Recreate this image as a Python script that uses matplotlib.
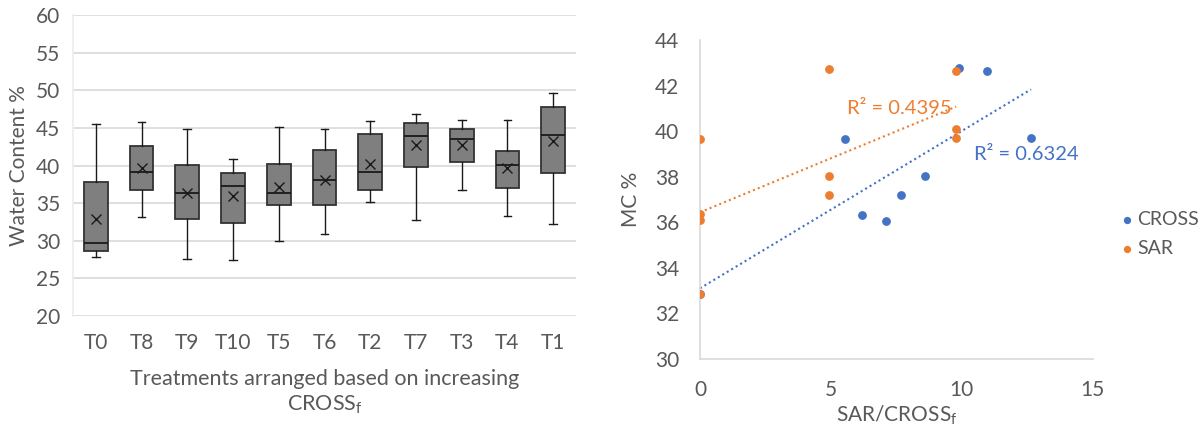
import numpy as np
import matplotlib
matplotlib.use("Agg")
import matplotlib.pyplot as plt

plt.rcParams['font.family'] = ['Lato', 'DejaVu Sans']
plt.rcParams['mathtext.fontset'] = 'custom'
plt.rcParams['mathtext.rm'] = 'Lato'
plt.rcParams['mathtext.it'] = 'Lato'

TEXT = "#595959"
GRID = "#d9d9d9"
BLUE = "#4472C4"
ORANGE = "#ED7D31"
FS = 15

# box plot data (treatments ordered by increasing CROSS_f)
treatments = ["T0", "T8", "T9", "T10", "T5", "T6", "T2", "T7", "T3", "T4", "T1"]
whislo = [27.8, 33.1, 27.6, 27.4, 30.0, 30.9, 35.1, 32.8, 36.8, 33.3, 32.2]
q1 = [28.6, 36.8, 32.9, 32.4, 34.7, 34.7, 36.8, 39.8, 40.4, 37.0, 39.0]
med = [29.7, 39.1, 36.3, 37.3, 36.4, 38.1, 39.1, 43.9, 43.5, 40.1, 44.1]
q3 = [37.8, 42.6, 40.1, 39.0, 40.2, 42.0, 44.2, 45.7, 44.9, 41.9, 47.8]
whishi = [45.5, 45.8, 44.8, 40.9, 45.1, 44.8, 45.9, 46.8, 46.1, 46.1, 49.6]
means = [32.85, 39.67, 36.3, 36.0, 37.14, 38.07, 40.15, 42.77, 42.68, 39.71, 43.21]

# scatter data
cross_x = [0, 5.53, 6.18, 7.12, 7.69, 8.59, 9.88, 10.95, 12.65]
cross_y = [32.85, 39.65, 36.34, 36.06, 37.18, 38.04, 42.78, 42.64, 39.71]
sar_x = [0, 0, 0, 0, 4.94, 4.94, 4.94, 9.79, 9.79, 9.79]
sar_y = [39.65, 36.37, 36.08, 32.85, 42.73, 38.04, 37.18, 42.63, 40.08, 39.71]

W, H = 1204, 425
fig = plt.figure(figsize=(W / 100, H / 100), dpi=100)

# ---- left: box plot ----
ax1 = fig.add_axes([73 / W, 1 - 316 / H, 503 / W, 301 / H])
stats = []
for i, t in enumerate(treatments):
    stats.append({"label": t, "whislo": whislo[i], "q1": q1[i], "med": med[i],
                  "q3": q3[i], "whishi": whishi[i], "mean": means[i], "fliers": []})
ax1.bxp(stats, positions=range(len(treatments)), widths=0.52, patch_artist=True,
        showmeans=True, showfliers=False, capwidths=0.17,
        boxprops=dict(facecolor="#7f7f7f", edgecolor="#333333", linewidth=1.3),
        medianprops=dict(color="#1a1a1a", linewidth=1.3),
        whiskerprops=dict(color="#1a1a1a", linewidth=1.0),
        capprops=dict(color="#1a1a1a", linewidth=1.0),
        meanprops=dict(marker="x", markeredgecolor="#1a1a1a", markersize=7, markeredgewidth=1.0))
ax1.set_xlim(-0.5, len(treatments) - 0.5)
ax1.set_ylim(20, 60)
ax1.set_yticks(np.arange(20, 61, 5))
ax1.yaxis.grid(True, color=GRID, linewidth=1.2)
ax1.set_axisbelow(True)
for s in ["top", "right", "bottom"]:
    ax1.spines[s].set_visible(False)
ax1.spines["left"].set_color("#ececec")
ax1.spines["left"].set_linewidth(1.2)
ax1.tick_params(length=0, labelsize=FS, labelcolor=TEXT, pad=9)
ax1.tick_params(axis="x", pad=12)
ax1.set_ylabel("Water Content %", fontsize=FS, color=TEXT, labelpad=5)
ax1.set_xlabel("Treatments arranged based on increasing\nCROSS$_\\mathrm{f}$",
               fontsize=15.5, color=TEXT, labelpad=12, linespacing=1.25)

# ---- right: scatter ----
ax2 = fig.add_axes([700 / W, 1 - 359 / H, 392.5 / W, 319 / H])
ax2.scatter(cross_x, cross_y, s=28, color=BLUE, label="CROSS", zorder=3)
ax2.scatter(sar_x, sar_y, s=28, color=ORANGE, label="SAR", zorder=3)

for xs, ys, col in [(cross_x, cross_y, BLUE), (sar_x, sar_y, ORANGE)]:
    k, b = np.polyfit(xs, ys, 1)
    xx = np.array([min(xs), max(xs)])
    ax2.plot(xx, k * xx + b, linestyle=(0, (1, 1.5)), color=col, linewidth=1.5, zorder=2)

fig.text(847 / W, 1 - 108 / H, "R² = 0.4395", color=ORANGE, fontsize=14.5, va="center")
fig.text(974 / W, 1 - 154 / H, "R² = 0.6324", color=BLUE, fontsize=14.5, va="center")

ax2.set_xlim(0, 15)
ax2.set_ylim(30, 44)
ax2.set_xticks([0, 5, 10, 15])
ax2.set_yticks(np.arange(30, 45, 2))
for s in ["top", "right"]:
    ax2.spines[s].set_visible(False)
for s in ["left", "bottom"]:
    ax2.spines[s].set_color(GRID)
    ax2.spines[s].set_linewidth(1.2)
ax2.tick_params(length=0, labelsize=FS, labelcolor=TEXT, pad=15)
ax2.set_ylabel("MC %", fontsize=FS, color=TEXT, labelpad=10)
ax2.set_xlabel("SAR/CROSS$_\\mathrm{f}$", fontsize=FS, color=TEXT, labelpad=3)

handles, labels = ax2.get_legend_handles_labels()
leg = fig.legend(handles, labels, loc="center left", bbox_to_anchor=(1122 / W, 1 - 234 / H),
                 frameon=False, fontsize=14, handlelength=0.5, handletextpad=0.3,
                 markerscale=0.8, labelspacing=0.6, borderaxespad=0, borderpad=0)
for t in leg.get_texts():
    t.set_color(TEXT)

fig.savefig("out.png", dpi=100)
